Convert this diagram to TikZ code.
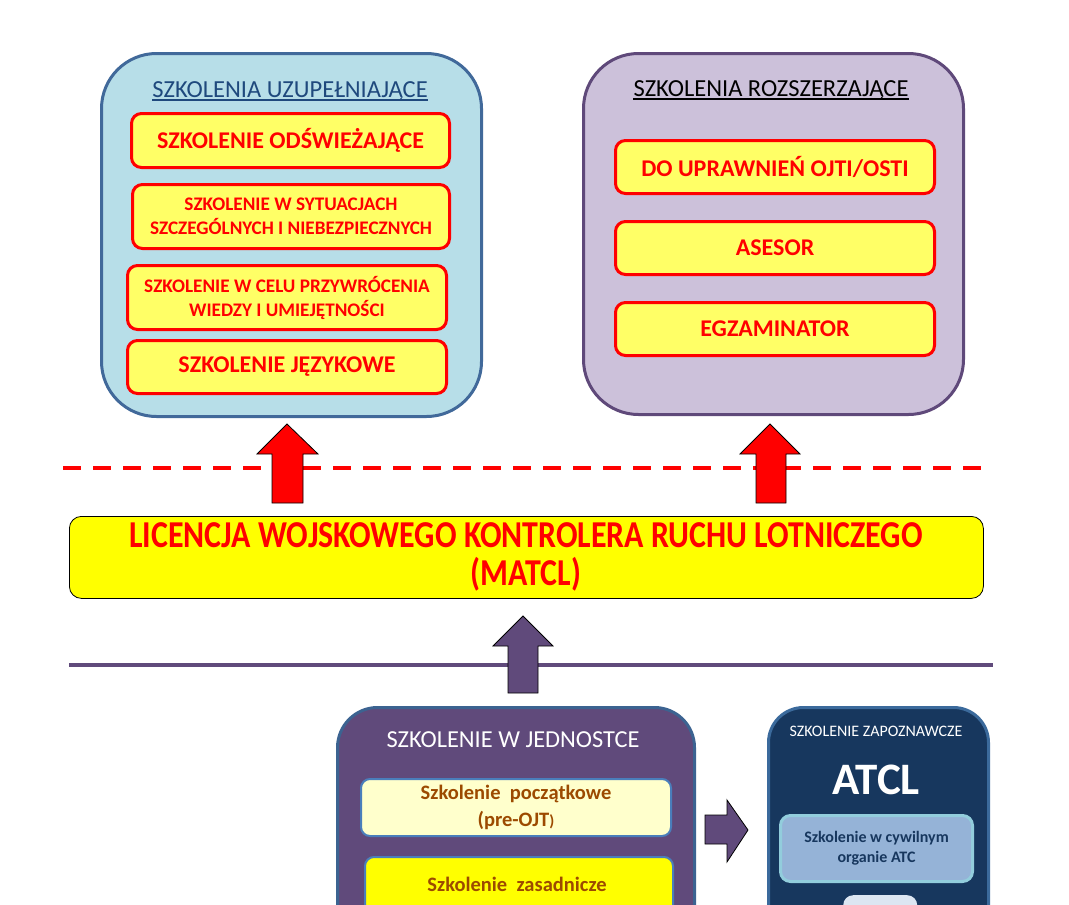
\documentclass[tikz,border=0pt]{standalone}
\usepackage{fontspec}
\setmainfont{Carlito}
\usetikzlibrary{calc}
\definecolor{ltblue}{HTML}{B7DEE8}
\definecolor{lbord}{HTML}{41699A}
\definecolor{ltpurp}{HTML}{CCC1DA}
\definecolor{rbord}{HTML}{5F497A}
\definecolor{inyel}{HTML}{FFFF66}
\definecolor{pred}{HTML}{FF0000}
\definecolor{tblue}{HTML}{1F497D}
\definecolor{pyel}{HTML}{FFFF00}
\definecolor{purp}{HTML}{604A7B}
\definecolor{bbord}{HTML}{3C6391}
\definecolor{lyel}{HTML}{FFFFCC}
\definecolor{ibord}{HTML}{4A7EBB}
\definecolor{brown}{HTML}{9C4A00}
\definecolor{navy}{HTML}{17375E}
\definecolor{nbord}{HTML}{3B6A9C}
\definecolor{atcin}{HTML}{95B3D7}
\definecolor{atcbord}{HTML}{92CDDC}
\definecolor{pale}{HTML}{DCE6F2}
\tikzset{
  bigbox/.style={draw, line width=3pt, rounded corners=55pt, anchor=north west, inner sep=0pt},
  redbox/.style={draw=pred, fill=inyel, line width=3pt, rounded corners=10pt, anchor=north west, inner sep=0pt,
     text=pred, font=\bfseries, align=center},
  bigred/.style={font=\bfseries\fontsize{24}{28}\selectfont},
  smallred/.style={font=\bfseries\fontsize{19.2}{24}\selectfont},
  ttl/.style={inner sep=0pt, anchor=base},
  redarrow/.style={fill=pred, draw=black, line width=0.8pt},
  purparrow/.style={fill=purp, draw=black, line width=0.8pt},
  lowbox/.style={draw, line width=3pt, rounded corners=40pt, anchor=north west, inner sep=0pt},
  innerbox/.style={draw=ibord, line width=2pt, rounded corners=9pt, anchor=north west, inner sep=0pt,
     text=brown, font=\bfseries\fontsize{20.5}{27}\selectfont, align=center},
}
\begin{document}
\begin{tikzpicture}[x=1pt,y=-1pt]
\useasboundingbox (0,0) rectangle (1069,905);
\clip (0,0) rectangle (1069,905);

% left big box
\node[bigbox, draw=lbord, fill=ltblue, minimum width=380, minimum height=363] (L) at (100,52) {};
\node[ttl, text=tblue, font=\fontsize{24.5}{28}\selectfont] (Lt) at (290,97) {SZKOLENIA UZUPEŁNIAJĄCE};
\draw[tblue, line width=1.6pt] ([yshift=-3pt]Lt.base west) -- ([yshift=-3pt]Lt.base east);
\node[redbox, bigred, minimum width=318, minimum height=54] (L1) at (130,112) {SZKOLENIE ODŚWIEŻAJĄCE};
\node[redbox, smallred, minimum width=317, minimum height=64] (L2) at (131,183) {SZKOLENIE W SYTUACJACH\\SZCZEGÓLNYCH I NIEBEZPIECZNYCH};
\node[redbox, smallred, minimum width=319, minimum height=64] (L3) at (126,264) {SZKOLENIE W CELU PRZYWRÓCENIA\\WIEDZY I UMIEJĘTNOŚCI};
\node[redbox, bigred, minimum width=319, minimum height=53] (L4) at (126,339) {SZKOLENIE JĘZYKOWE};

% right big box
\node[bigbox, draw=rbord, fill=ltpurp, minimum width=380, minimum height=361] (R) at (582,52) {};
\node[ttl, text=black, font=\fontsize{24.5}{28}\selectfont] (Rt) at (771,96) {SZKOLENIA ROZSZERZAJĄCE};
\draw[black, line width=1.6pt] ([yshift=-3pt]Rt.base west) -- ([yshift=-3pt]Rt.base east);
\node[redbox, bigred, minimum width=319, minimum height=53] (R1) at (614,139) {DO UPRAWNIEŃ OJTI/OSTI};
\node[redbox, bigred, minimum width=319, minimum height=53] (R2) at (614,220) {ASESOR};
\node[redbox, bigred, minimum width=319, minimum height=53] (R3) at (614,301) {EGZAMINATOR};

% red dashed line
\coordinate (dl) at (63,468);
\coordinate (dr) at (990,468);
\draw[pred, line width=4pt, dash pattern=on 18pt off 12pt] (dl) -- (dr);

% MATCL box
\node[draw=black, fill=pyel, line width=0.8pt, rounded corners=12pt, anchor=north west, inner sep=0pt,
      minimum width=914, minimum height=82] (M) at (69,516) {};
\node[text=pred, font=\bfseries\fontsize{38}{38}\selectfont, align=center, inner sep=0pt] (Mt) at (526,557)
  {\scalebox{0.84}[1]{LICENCJA WOJSKOWEGO KONTROLERA RUCHU LOTNICZEGO}\\\scalebox{0.84}[1]{(MATCL)}};

% red block arrows
\draw[redarrow] (287,424) -- (318,454) -- (303,454) -- (303,503) -- (272,503) -- (272,454) -- (257,454) -- cycle;
\draw[redarrow] (770,424) -- (800,454) -- (786,454) -- (786,503) -- (756,503) -- (756,454) -- (740,454) -- cycle;

% purple line
\coordinate (pl) at (69,665);
\coordinate (pr) at (993,665);
\draw[purp, line width=4pt] (pl) -- (pr);

% purple up arrow
\draw[purparrow] (523,616) -- (553,646) -- (538,646) -- (538,693) -- (508,693) -- (508,646) -- (493,646) -- cycle;

% bottom unit box
\node[lowbox, draw=bbord, fill=purp, minimum width=357, minimum height=260] (J) at (336,706) {};
\node[ttl, text=white, font=\fontsize{24.4}{28}\selectfont] (Jt) at (513,747) {SZKOLENIE W JEDNOSTCE};
\node[innerbox, fill=lyel, minimum width=310, minimum height=57] (J1) at (360,778) {Szkolenie\ \ początkowe\\(pre-OJT{\fontsize{16}{16}\selectfont)}};
\node[innerbox, fill=pyel, minimum width=308, minimum height=80, anchor=north west] (J2) at (364,856) {};
\node[text=brown, font=\bfseries\fontsize{20.5}{25}\selectfont, anchor=base, inner sep=0pt] (J2t) at (517,891) {Szkolenie\ \ zasadnicze};

% purple right arrow
\draw[purparrow] (748,830) -- (727,862) -- (727,844) -- (705,844) -- (705,815) -- (727,815) -- (727,800) -- cycle;

% ATCL box
\node[lowbox, draw=nbord, fill=navy, rounded corners=35pt, minimum width=220, minimum height=260] (A) at (767,706) {};
\node[ttl, text=white, font=\fontsize{16}{18}\selectfont] (At) at (876,736) {SZKOLENIE ZAPOZNAWCZE};
\node[ttl, text=white, font=\bfseries\fontsize{45}{48}\selectfont] (Ab) at (876,794) {ATCL};
\node[draw=atcbord, fill=atcin, line width=3pt, rounded corners=10pt, anchor=north west, inner sep=0pt,
      minimum width=192, minimum height=66, text=navy, font=\bfseries\fontsize{16}{20}\selectfont, align=center] (A1) at (779,814)
  {Szkolenie w cywilnym\\organie ATC};
\node[fill=pale, rounded corners=10pt, anchor=north west, inner sep=0pt, minimum width=74, minimum height=40] (A2) at (843,895) {};
\end{tikzpicture}
\end{document}
